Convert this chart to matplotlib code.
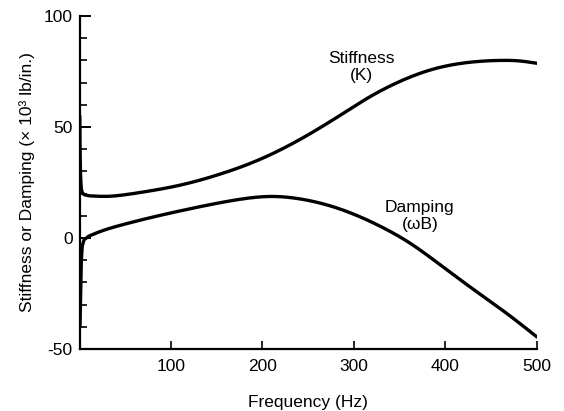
import matplotlib
matplotlib.use("Agg")
import matplotlib.pyplot as plt
from matplotlib.ticker import MultipleLocator, FixedLocator
import numpy as np

plt.rcParams['font.family'] = ['Liberation Sans', 'DejaVu Sans']
plt.rcParams['axes.unicode_minus'] = False

# Stiffness (K) vs frequency
stiff_hz = [0.3, 0.6, 1.0, 1.5, 2.0, 3.0, 5.0, 10, 20, 33, 50, 77, 110, 150, 186, 220, 250,
            280, 314, 350, 386, 423, 460, 480, 500]
stiff_val = [55, 40, 30, 25, 22, 20.5, 19.5, 19.0, 18.8, 18.8, 19.5, 21.2, 23.8, 28.3, 33.5,
             39.8, 46.5, 54, 62.8, 70.5, 76, 79, 80, 79.8, 78.7]

# Damping (omega B) vs frequency
damp_hz = [0.5, 0.8, 1.0, 1.5, 2.0, 3.0, 5.0, 10, 20, 50, 80, 110, 140, 175, 208, 241,
           285, 330, 360, 394, 430, 467, 500]
damp_val = [-40, -35, -30, -20, -10, -3.5, -0.8, 0.8, 2.5, 6.3, 9.4, 12.2, 14.8, 17.4, 18.7, 17.6,
            13, 5, -2, -12, -23, -34, -44.6]

x_ticks = [100, 200, 300, 400, 500]
y_ticks = [-50, 0, 50, 100]

fig = plt.figure(figsize=(5.64, 4.11), dpi=100)
ax = fig.add_axes([0.141, 0.151, 0.811, 0.810])


def natural_spline(xs, ys, n_per=40):
    xs = np.asarray(xs, float); ys = np.asarray(ys, float)
    n = len(xs)
    h = np.diff(xs)
    A = np.zeros((n, n)); r = np.zeros(n)
    A[0, 0] = 1; A[-1, -1] = 1
    for i in range(1, n - 1):
        A[i, i-1] = h[i-1]; A[i, i] = 2*(h[i-1] + h[i]); A[i, i+1] = h[i]
        r[i] = 3*((ys[i+1]-ys[i])/h[i] - (ys[i]-ys[i-1])/h[i-1])
    c = np.linalg.solve(A, r)
    out_x, out_y = [], []
    for i in range(n - 1):
        b = (ys[i+1]-ys[i])/h[i] - h[i]*(2*c[i] + c[i+1])/3
        d = (c[i+1]-c[i])/(3*h[i])
        t = np.linspace(0, h[i], n_per, endpoint=False)
        out_x.extend(xs[i] + t)
        out_y.extend(ys[i] + b*t + c[i]*t**2 + d*t**3)
    out_x.append(xs[-1]); out_y.append(ys[-1])
    return np.array(out_x), np.array(out_y)


def curve(xs, ys, split):
    # steep start segment drawn with straight joins, remainder as a smooth spline
    xs = list(xs); ys = list(ys)
    k = xs.index(split)
    ax_, ay_ = np.array(xs[:k+1], float), np.array(ys[:k+1], float)
    bx_, by_ = natural_spline(xs[k:], ys[k:])
    return np.concatenate([ax_, bx_[1:]]), np.concatenate([ay_, by_[1:]])


sx, sy = curve(stiff_hz, stiff_val, 10)
dx, dy = curve(damp_hz, damp_val, 10)
ax.plot(sx, sy, color='black', lw=2.4, solid_capstyle='round', solid_joinstyle='round')
ax.plot(dx, dy, color='black', lw=2.4, solid_capstyle='round', solid_joinstyle='round')

ax.set_xlim(0, 500)
ax.set_ylim(-50, 100)
ax.xaxis.set_major_locator(FixedLocator(x_ticks))
ax.yaxis.set_major_locator(FixedLocator(y_ticks))
ax.yaxis.set_minor_locator(MultipleLocator(10))

for s in ['top', 'right']:
    ax.spines[s].set_visible(False)
for s in ['left', 'bottom']:
    ax.spines[s].set_linewidth(1.6)

fs = 12.5
ax.tick_params(axis='x', direction='in', length=6, width=1.2, labelsize=fs, pad=7)
ax.tick_params(axis='y', which='major', direction='in', length=8, width=1.4, labelsize=fs, pad=5)
ax.tick_params(axis='y', which='minor', direction='in', length=5, width=1.2)

ax.set_xlabel('Frequency (Hz)', fontsize=fs, labelpad=15.5)
ax.set_ylabel('Stiffness or Damping (× 10³ lb/in.)', fontsize=fs, labelpad=6.5)

ax.text(308, 77, 'Stiffness\n(K)', ha='center', va='center', fontsize=fs, linespacing=1.15)
ax.text(372, 10, 'Damping\n(ωB)', ha='center', va='center', fontsize=fs, linespacing=1.15)

fig.savefig('out.png', dpi=100)
